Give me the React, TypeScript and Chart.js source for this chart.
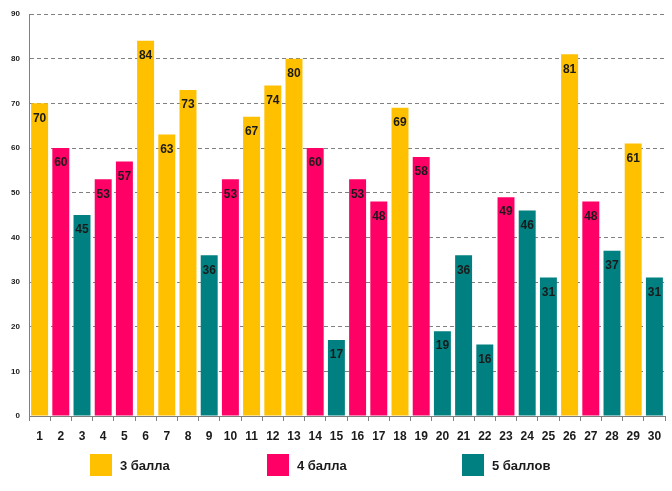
import React, { useEffect, useRef } from "react";
import { Chart, registerables } from "chart.js";

Chart.register(...registerables);

const labels = Array.from({ length: 30 }, (_, i) => String(i + 1));
const values = [70, 60, 45, 53, 57, 84, 63, 73, 36, 53, 67, 74, 80, 60, 17, 53, 48, 69, 58, 19, 36, 16, 49, 46, 31, 81, 48, 37, 61, 31];
const grades = [3, 4, 5, 4, 4, 3, 3, 3, 5, 4, 3, 3, 3, 4, 5, 4, 4, 3, 4, 5, 5, 5, 4, 5, 5, 3, 4, 5, 3, 5];
const legendNames = ["3 балла", "4 балла", "5 баллов"];
const gradeKeys = [3, 4, 5];
const colorFor: Record<number, string> = { 3: "#FFC000", 4: "#FF0066", 5: "#008080" };

const valueLabelPlugin = {
  id: "valueLabels",
  afterDatasetsDraw(chart: any) {
    const ctx = chart.ctx;
    const meta = chart.getDatasetMeta(0);
    ctx.save();
    ctx.font = "bold 12px 'Liberation Sans', Arial, sans-serif";
    ctx.fillStyle = "#1a1a1a";
    ctx.textAlign = "center";
    ctx.textBaseline = "middle";
    meta.data.forEach((el: any, i: number) => {
      ctx.fillText(String(values[i]), el.x, el.y + 15);
    });
    ctx.restore();
  },
};

export default function App() {
  const ref = useRef<HTMLCanvasElement | null>(null);
  useEffect(() => {
    if (!ref.current) return;
    const chart = new Chart(ref.current, {
      type: "bar",
      data: {
        labels,
        datasets: [
          {
            data: values,
            backgroundColor: grades.map((g) => colorFor[g]),
            barPercentage: 0.8,
            categoryPercentage: 1,
          },
        ],
      },
      options: {
        animation: false,
        responsive: false,
        maintainAspectRatio: false,
        layout: { padding: { left: 0, right: 7, top: 14, bottom: 0 } },
        plugins: { legend: { display: false }, tooltip: { enabled: false } },
        scales: {
          x: {
            afterFit: (s: any) => {
              s.height = 75;
            },
            grid: { drawOnChartArea: false, drawTicks: true, tickLength: 5, color: "#808080", offset: true },
            border: { display: true, color: "#808080", width: 1 },
            ticks: {
              padding: 8,
              color: "#1a1a1a",
              font: { family: "'Liberation Sans', Arial, sans-serif", size: 12, weight: "bold" },
              maxRotation: 0,
              autoSkip: false,
            },
          },
          y: {
            min: 0,
            max: 90,
            afterFit: (s: any) => {
              s.width = 29;
            },
            grid: { color: "#808080", drawTicks: false },
            border: { display: true, color: "#808080", width: 1, dash: [4, 3] } as any,
            ticks: {
              stepSize: 10,
              padding: 9,
              color: "#1a1a1a",
              font: { family: "'Liberation Sans', Arial, sans-serif", size: 8, weight: "bold" },
            },
          },
        },
      },
      plugins: [valueLabelPlugin],
    });
    return () => chart.destroy();
  }, []);

  const legendPos = [90, 267, 462];
  return (
    <div style={{ position: "fixed", left: 0, top: 0, width: 672, height: 491, background: "#fff" }}>
      <canvas ref={ref} width={672} height={491} style={{ display: "block" }} />
      {gradeKeys.map((g, i) => (
        <div
          key={g}
          style={{
            position: "absolute",
            left: legendPos[i],
            top: 454,
            height: 22,
            display: "flex",
            alignItems: "center",
            fontFamily: "'Liberation Sans', Arial, sans-serif",
            fontWeight: "bold",
            fontSize: 13,
            color: "#1a1a1a",
          }}
        >
          <span style={{ display: "inline-block", width: 22, height: 22, background: colorFor[g], marginRight: 8 }} />
          <span>{legendNames[i]}</span>
        </div>
      ))}
    </div>
  );
}
